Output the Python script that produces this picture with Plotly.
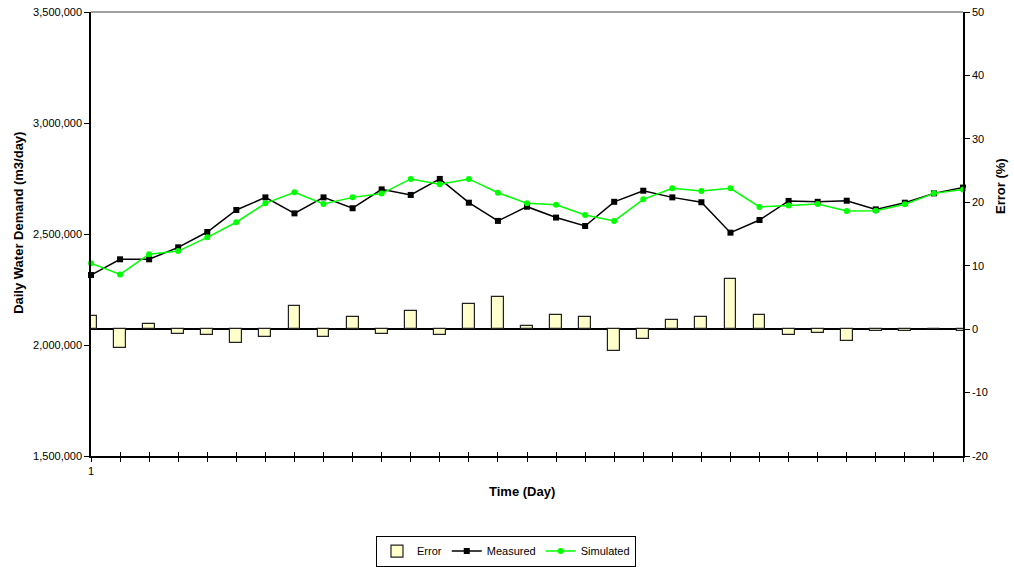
import plotly.graph_objects as go

days = list(range(1, 32))
x_tick_labels = ["1"] + [""] * 30

measured = [2315000, 2386000, 2386000, 2440000, 2509000, 2608000, 2665000, 2593000,
            2665000, 2616000, 2701000, 2676000, 2748000, 2641000, 2559000, 2623000,
            2574000, 2536000, 2645000, 2695000, 2665000, 2643000, 2506000, 2563000,
            2649000, 2645000, 2650000, 2611000, 2641000, 2683000, 2709000]

simulated = [2368000, 2318000, 2409000, 2423000, 2485000, 2553000, 2638000, 2688000,
             2635000, 2665000, 2682000, 2748000, 2724000, 2748000, 2686000, 2638000,
             2632000, 2586000, 2559000, 2656000, 2706000, 2694000, 2706000, 2622000,
             2628000, 2635000, 2604000, 2605000, 2634000, 2683000, 2701000]

error_pct = [2.15, -2.94, 0.89, -0.74, -0.95, -2.2, -1.16, 3.63, -1.16, 1.84, -0.79,
             2.79, -0.95, 3.99, 4.99, 0.42, 2.21, 1.94, -3.42, -1.52, 1.37, 1.89,
             7.88, 2.21, -0.89, -0.53, -1.84, -0.26, -0.37, 0.1, -0.37]

left_ticks = [1500000, 2000000, 2500000, 3000000, 3500000]
left_tick_text = ["1,500,000", "2,000,000", "2,500,000", "3,000,000", "3,500,000"]
right_ticks = [-20, -10, 0, 10, 20, 30, 40, 50]
right_tick_text = ["-20", "-10", "0", "10", "20", "30", "40", "50"]

FONT = "Liberation Sans, Arial, sans-serif"

fig = go.Figure()
fig.add_trace(go.Bar(
    x=days, y=error_pct, name="Error", yaxis="y2", width=0.41,
    marker=dict(color="#FFFFCC", line=dict(color="#222222", width=1.2)),
))
fig.add_trace(go.Scatter(
    x=days, y=measured, name="Measured", mode="lines+markers", cliponaxis=False,
    line=dict(color="#000000", width=1.5),
    marker=dict(symbol="square", size=6, color="#000000"),
))
fig.add_trace(go.Scatter(
    x=days, y=simulated, name="Simulated", mode="lines+markers", cliponaxis=False,
    line=dict(color="#00FF00", width=1.5),
    marker=dict(symbol="circle", size=6, color="#00FF00"),
))
# helper axis for the inside half of the crossing category ticks
fig.add_trace(go.Scatter(x=[days[0]], y=[measured[0]], xaxis="x2", mode="markers",
                         marker=dict(opacity=0), showlegend=False, hoverinfo="skip"))

fig.update_layout(
    width=1014, height=567,
    margin=dict(l=91, r=51, t=12, b=111, autoexpand=False),
    paper_bgcolor="white", plot_bgcolor="white",
    font=dict(family=FONT, size=11, color="#000000"),
    showlegend=True,
    bargap=0,
    xaxis=dict(
        range=[1, 31], tickvals=days, ticktext=x_tick_labels, automargin=False,
        ticks="outside", ticklen=4, tickcolor="#000", tickwidth=1,
        showline=True, linecolor="#000", linewidth=1.5,
        showgrid=False, zeroline=False, tickfont=dict(size=11),
    ),
    xaxis2=dict(
        range=[1, 31], overlaying="x", anchor="y", side="bottom", automargin=False,
        tickvals=days, ticks="inside", ticklen=4, tickcolor="#000", tickwidth=1,
        showticklabels=False, showline=False, showgrid=False, zeroline=False,
    ),
    yaxis=dict(
        range=[1500000, 3500000], tickvals=left_ticks, ticktext=left_tick_text,
        automargin=False,
        ticks="outside", ticklen=5, tickcolor="#000",
        showline=True, linecolor="#000", linewidth=1.5,
        showgrid=False, zeroline=False,
    ),
    yaxis2=dict(
        range=[-20, 50], tickvals=right_ticks, ticktext=right_tick_text,
        overlaying="y", side="right", anchor="x", automargin=False,
        ticks="outside", ticklen=5, tickcolor="#000",
        showline=True, linecolor="#000", linewidth=1.5,
        showgrid=False, zeroline=True, zerolinecolor="#000", zerolinewidth=1.5,
    ),
    legend=dict(
        orientation="h", xref="container", yref="container",
        x=0.499, xanchor="center", y=0.028, yanchor="middle",
        bordercolor="#000", borderwidth=1, bgcolor="white",
        font=dict(size=11), itemwidth=30, tracegroupgap=0,
    ),
    shapes=[dict(type="line", xref="paper", yref="paper", x0=0, x1=1, y0=1, y1=1,
                 line=dict(color="#A0A0A0", width=2))],
    annotations=[
        dict(text="<b>Time (Day)</b>", xref="paper", yref="paper", x=0.494, y=-0.081,
             xanchor="center", yanchor="middle", showarrow=False, font=dict(size=13)),
        dict(text="<b>Daily Water Demand (m3/day)</b>", xref="paper", yref="paper",
             x=-0.0826, y=0.525, textangle=-90, xanchor="center", yanchor="middle",
             showarrow=False, font=dict(size=13)),
        dict(text="<b>Error (%)</b>", xref="paper", yref="paper",
             x=1.0424, y=0.608, textangle=-90, xanchor="center", yanchor="middle",
             showarrow=False, font=dict(size=13)),
    ],
)

fig.write_html("out.html")
